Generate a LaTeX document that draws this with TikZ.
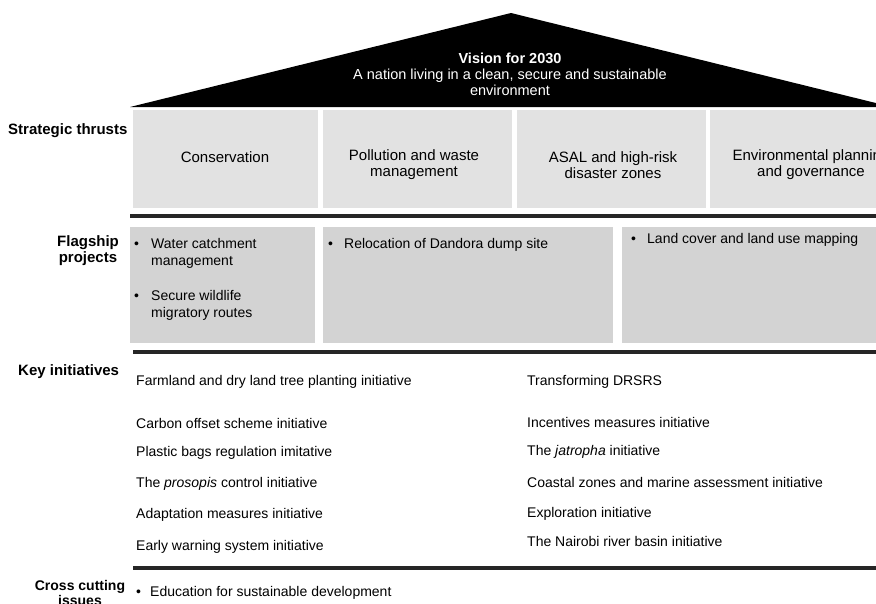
\documentclass[tikz,border=0pt]{standalone}
\usepackage{fontspec}
\setmainfont{Liberation Sans}
\begin{document}
\begin{tikzpicture}[x=1pt,y=-1pt,
  roof/.style={fill=black,draw=none},
  thrust/.style={fill=stgray,draw=none},
  flag/.style={fill=flgray,draw=none},
  bar/.style={line width=4pt,draw=black!85},
  txt/.style={inner sep=0pt,anchor=base west,font=\fontsize{14}{16}\selectfont},
  ctxt/.style={inner sep=0pt,align=center,font=\fontsize{15}{16}\selectfont},
  lbl/.style={inner sep=0pt,align=center,font=\bfseries\fontsize{15}{16}\selectfont},
  vis/.style={inner sep=0pt,align=center,text=white,font=\fontsize{14.5}{16}\selectfont}]
\definecolor{stgray}{HTML}{E2E2E2}
\definecolor{flgray}{HTML}{D3D3D3}
\useasboundingbox (0,0) rectangle (876,603);
\clip (0,0) rectangle (876,603);
\fill[white] (0,0) rectangle (876,603);
% roof
\coordinate (apex) at (511,13);
\coordinate (rl) at (130,107);
\coordinate (rr) at (892,107);
\fill[roof] (rl) -- (apex) -- (rr) -- cycle;
\node[vis] (vision) at (510,74) {\textbf{Vision for 2030}\\A nation living in a clean, secure and sustainable\\environment};
% strategic thrusts
\fill[thrust] (133,110) rectangle (318,208);
\fill[thrust] (323,110) rectangle (512,208);
\fill[thrust] (517,110) rectangle (706,208);
\fill[thrust] (710,110) rectangle (912,208);
\node[lbl,anchor=west] (stl) at (8,131) {Strategic thrusts};
\node[ctxt] (st1) at (225,157) {Conservation};
\node[ctxt] (st2) at (414,165) {Pollution and waste\\management};
\node[ctxt] (st3) at (613,165) {ASAL and high-risk\\disaster zones};
\node[ctxt] (st4) at (811,165) {Environmental planning\\and governance};
\coordinate (b1l) at (130,216); \coordinate (b1r) at (876,216);
\draw[bar] (b1l) -- (b1r);
% flagship
\fill[flag] (130,227) rectangle (315,343);
\fill[flag] (323,227) rectangle (613,343);
\fill[flag] (622,227) rectangle (900,343);
\node[lbl] (fll) at (88,251) {Flagship\\projects};
\node[txt] (fb1) at (134,248) {•};
\node[txt] (f1) at (151,248) {Water catchment};
\node[txt] (f1b) at (151,265) {management};
\node[txt] (fb2) at (134,300) {•};
\node[txt] (f2) at (151,300) {Secure wildlife};
\node[txt] (f2b) at (151,317) {migratory routes};
\node[txt] (fb3) at (328,248) {•};
\node[txt] (f3) at (344,248) {Relocation of Dandora dump site};
\node[txt] (fb4) at (631,243) {•};
\node[txt] (f4) at (647,243) {Land cover and land use mapping};
\coordinate (b2l) at (133,352); \coordinate (b2r) at (876,352);
\draw[bar] (b2l) -- (b2r);
% key initiatives
\node[lbl,anchor=west] (kil) at (18,372) {Key initiatives};
\node[txt] (k1) at (136,385) {Farmland and dry land tree planting initiative};
\node[txt] (k2) at (136,428) {Carbon offset scheme initiative};
\node[txt] (k3) at (136,456) {Plastic bags regulation imitative};
\node[txt] (k4) at (136,487) {The \textit{prosopis} control initiative};
\node[txt] (k5) at (136,518) {Adaptation measures initiative};
\node[txt] (k6) at (136,550) {Early warning system initiative};
\node[txt] (r1) at (527,385) {Transforming DRSRS};
\node[txt] (r2) at (527,427) {Incentives measures initiative};
\node[txt] (r3) at (527,455) {The \textit{jatropha} initiative};
\node[txt] (r4) at (527,487) {Coastal zones and marine assessment initiative};
\node[txt] (r5) at (527,517) {Exploration initiative};
\node[txt] (r6) at (527,546) {The Nairobi river basin initiative};
\coordinate (b3l) at (133,568); \coordinate (b3r) at (876,568);
\draw[bar] (b3l) -- (b3r);
% cross cutting
\node[lbl,font=\bfseries\fontsize{14}{15}\selectfont] (ccl) at (80,593) {Cross cutting\\issues};
\node[txt] (cb) at (136,596) {•};
\node[txt] (c1) at (150,596) {Education for sustainable development};
\end{tikzpicture}
\end{document}
